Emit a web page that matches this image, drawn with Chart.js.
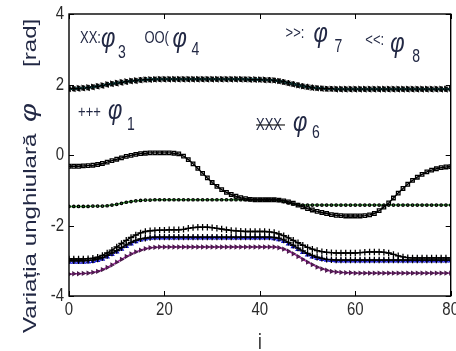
<!DOCTYPE html>
<html>
<head>
<meta charset="utf-8">
<script src="https://cdn.jsdelivr.net/npm/chart.js@4.4.1/dist/chart.umd.min.js"></script>
<style>
  html, body { margin: 0; padding: 0; background: #fff; }
  canvas { display: block; }
</style>
</head>
<body>
<canvas id="myChart" width="456" height="351"></canvas>
<script>
// sample index i
const idx = Array.from({ length: 81 }, (_, i) => i);

// angular variation of each joint [rad]
const phi3 = [1.88,1.88,1.89,1.90,1.91, 1.93,1.95,1.97,2.00,2.02, 2.04,2.06,2.08,2.10,2.11, 2.13,2.14,2.14,2.15,2.15,
  2.15,2.15,2.15,2.15,2.15, 2.15,2.15,2.15,2.15,2.15, 2.15,2.15,2.15,2.15,2.15, 2.15,2.15,2.15,2.14,2.14,
  2.14,2.13,2.13,2.12,2.10, 2.08,2.05,2.02,1.99,1.96, 1.94,1.92,1.90,1.89,1.88, 1.88,1.87,1.87,1.87,1.87,
  1.87,1.87,1.87,1.87,1.87, 1.87,1.87,1.87,1.87,1.87, 1.87,1.87,1.87,1.87,1.87, 1.87,1.87,1.87,1.87,1.87, 1.87];
const phi7 = [1.89,1.89,1.90,1.91,1.92, 1.94,1.96,1.98,2.01,2.03, 2.05,2.07,2.09,2.11,2.12, 2.13,2.14,2.15,2.15,2.16,
  2.16,2.16,2.16,2.16,2.16, 2.16,2.16,2.16,2.16,2.16, 2.16,2.16,2.16,2.16,2.16, 2.16,2.16,2.15,2.15,2.15,
  2.14,2.14,2.13,2.12,2.10, 2.07,2.04,2.01,1.98,1.95, 1.93,1.91,1.90,1.89,1.88, 1.88,1.88,1.88,1.88,1.88,
  1.88,1.88,1.88,1.88,1.88, 1.88,1.88,1.88,1.88,1.88, 1.88,1.88,1.88,1.88,1.88, 1.88,1.88,1.88,1.88,1.88, 1.88];
const phi8 = [1.87,1.87,1.88,1.89,1.90, 1.92,1.94,1.96,1.99,2.01, 2.03,2.05,2.07,2.09,2.10, 2.12,2.13,2.13,2.14,2.14,
  2.14,2.14,2.14,2.14,2.14, 2.14,2.14,2.14,2.14,2.14, 2.14,2.14,2.14,2.14,2.14, 2.14,2.14,2.14,2.13,2.13,
  2.13,2.12,2.12,2.11,2.09, 2.06,2.03,2.00,1.97,1.94, 1.92,1.90,1.89,1.88,1.87, 1.87,1.86,1.86,1.86,1.86,
  1.86,1.86,1.86,1.86,1.86, 1.86,1.86,1.86,1.86,1.86, 1.86,1.86,1.86,1.86,1.86, 1.86,1.86,1.86,1.86,1.86, 1.86];
const phi4 = [-0.32,-0.32,-0.32,-0.31,-0.30, -0.29,-0.27,-0.24,-0.20,-0.16, -0.12,-0.08,-0.04,-0.01,0.02, 0.04,0.05,0.06,0.06,0.06,
  0.06,0.06,0.05,0.03,-0.03, -0.13,-0.25,-0.38,-0.52,-0.65, -0.78,-0.89,-0.98,-1.06,-1.12, -1.17,-1.21,-1.24,-1.26,-1.27,
  -1.27,-1.27,-1.27,-1.27,-1.28, -1.30,-1.33,-1.37,-1.42,-1.47, -1.52,-1.56,-1.60,-1.63,-1.66, -1.69,-1.71,-1.72,-1.73,-1.73,
  -1.73,-1.73,-1.72,-1.70,-1.66, -1.58,-1.48,-1.36,-1.22,-1.08, -0.95,-0.83,-0.72,-0.63,-0.55, -0.48,-0.43,-0.39,-0.36,-0.34, -0.33];
const phi2 = [-1.46,-1.46,-1.46,-1.46,-1.46, -1.45,-1.45,-1.45,-1.44,-1.42, -1.40,-1.37,-1.34,-1.32,-1.30, -1.29,-1.28,-1.28,-1.27,-1.27,
  -1.27,-1.27,-1.27,-1.27,-1.27, -1.27,-1.27,-1.27,-1.27,-1.27, -1.27,-1.27,-1.27,-1.27,-1.27, -1.27,-1.27,-1.27,-1.27,-1.27,
  -1.27,-1.27,-1.27,-1.27,-1.29, -1.32,-1.36,-1.39,-1.41,-1.42, -1.42,-1.42,-1.42,-1.42,-1.42, -1.42,-1.42,-1.42,-1.42,-1.42,
  -1.42,-1.42,-1.42,-1.42,-1.42, -1.42,-1.42,-1.42,-1.42,-1.42, -1.42,-1.42,-1.42,-1.42,-1.42, -1.42,-1.42,-1.42,-1.42,-1.42, -1.42];
const phi1 = [-2.95,-2.95,-2.95,-2.95,-2.94, -2.93,-2.90,-2.85,-2.78,-2.70, -2.61,-2.51,-2.42,-2.34,-2.27, -2.21,-2.17,-2.15,-2.14,-2.13,
  -2.13,-2.12,-2.12,-2.12,-2.11, -2.08,-2.06,-2.05,-2.05,-2.05, -2.06,-2.08,-2.10,-2.12,-2.14, -2.15,-2.16,-2.17,-2.17,-2.17,
  -2.17,-2.17,-2.18,-2.20,-2.24, -2.29,-2.35,-2.42,-2.49,-2.56, -2.62,-2.67,-2.71,-2.74,-2.76, -2.77,-2.78,-2.78,-2.78,-2.78,
  -2.78,-2.77,-2.76,-2.75,-2.75, -2.75,-2.76,-2.78,-2.82,-2.86, -2.89,-2.91,-2.92,-2.92,-2.92, -2.92,-2.92,-2.92,-2.92,-2.92, -2.92];
const phi6 = [-3.00,-3.00,-3.00,-3.00,-2.99, -2.98,-2.95,-2.91,-2.85,-2.78, -2.71,-2.63,-2.55,-2.48,-2.42, -2.38,-2.36,-2.34,-2.33,-2.33,
  -2.33,-2.33,-2.33,-2.33,-2.33, -2.33,-2.33,-2.33,-2.33,-2.33, -2.33,-2.33,-2.33,-2.33,-2.33, -2.33,-2.33,-2.33,-2.33,-2.33,
  -2.33,-2.33,-2.33,-2.34,-2.36, -2.41,-2.48,-2.56,-2.64,-2.72, -2.79,-2.85,-2.90,-2.93,-2.96, -2.97,-2.98,-2.98,-2.98,-2.98,
  -2.98,-2.98,-2.98,-2.98,-2.98, -2.98,-2.98,-2.98,-2.98,-2.98, -2.98,-2.98,-2.98,-2.98,-2.98, -2.98,-2.98,-2.98,-2.98,-2.98, -2.98];
const phiBlue = [-3.04,-3.04,-3.04,-3.04,-3.03, -3.02,-2.99,-2.95,-2.89,-2.82, -2.75,-2.67,-2.59,-2.52,-2.46, -2.41,-2.38,-2.36,-2.35,-2.35,
  -2.35,-2.35,-2.35,-2.35,-2.35, -2.35,-2.35,-2.35,-2.35,-2.35, -2.35,-2.35,-2.35,-2.35,-2.35, -2.35,-2.35,-2.35,-2.35,-2.35,
  -2.35,-2.35,-2.35,-2.37,-2.40, -2.45,-2.52,-2.60,-2.68,-2.76, -2.83,-2.89,-2.93,-2.96,-2.98, -2.99,-3.00,-3.00,-3.00,-3.00,
  -3.00,-3.00,-3.00,-3.00,-3.00, -3.00,-3.00,-3.00,-3.00,-3.00, -3.00,-3.00,-3.00,-3.00,-3.00, -3.00,-3.00,-3.00,-3.00,-3.00, -3.00];
const phi5 = [-3.38,-3.37,-3.37,-3.36,-3.35, -3.33,-3.30,-3.25,-3.19,-3.12, -3.04,-2.96,-2.88,-2.81,-2.75, -2.70,-2.66,-2.63,-2.62,-2.61,
  -2.61,-2.61,-2.61,-2.61,-2.61, -2.61,-2.61,-2.61,-2.61,-2.61, -2.61,-2.61,-2.61,-2.61,-2.61, -2.61,-2.61,-2.61,-2.61,-2.61,
  -2.61,-2.61,-2.61,-2.61,-2.63, -2.67,-2.73,-2.80,-2.88,-2.96, -3.04,-3.11,-3.18,-3.23,-3.27, -3.30,-3.32,-3.33,-3.34,-3.34,
  -3.35,-3.35,-3.35,-3.35,-3.35, -3.35,-3.35,-3.35,-3.35,-3.35, -3.35,-3.35,-3.35,-3.35,-3.35, -3.35,-3.35,-3.35,-3.35,-3.35, -3.35];

// tick labels
const xTickLabels = ['0', '20', '40', '60', '80'];
const yTickLabels = ['-4', '-2', '0', '2', '4'];

// in-plot labels: marker text, subscript, anchor in data units
const notes = [
  { mark: 'XX:', sub: '3', x: 2.3, y: 3.18, phi: [21, 4], s: [38, 15] },
  { mark: 'OO(', sub: '4', x: 15.8, y: 3.18, phi: [28, 4], s: [47, 12] },
  { mark: '>>:', sub: '7', x: 45.4, y: 3.32, phi: [28, 4], s: [49, 14] },
  { mark: '<<:', sub: '8', x: 62.1, y: 3.12, phi: [25, 7], s: [47, 17] },
  { mark: '+++', sub: '1', x: 1.9, y: 1.08, phi: [30, 2], s: [49, 13] },
  { mark: 'XXX', sub: '6', x: 39.2, y: 0.71, phi: [37, 1], s: [56, 8], strike: true }
];

const SY = 1.27; // the original figure is stretched vertically
const textColor = '#222844';

function pts(arr) {
    return arr.map((v, i) => ({ x: idx[i], y: v }));
}

function stretchedText(ctx, txt, x, y, font, align, base) {
    ctx.save();
    ctx.translate(x, y);
    ctx.scale(1, SY);
    ctx.font = font;
    ctx.textAlign = align;
    ctx.textBaseline = base;
    ctx.fillText(txt, 0, 0);
    ctx.restore();
}

const decor = {
    id: 'decor',
    afterDraw(chart) {
        const { ctx, chartArea: a, scales } = chart;
        const xs = scales.x, ys = scales.y;
        ctx.save();
        ctx.strokeStyle = '#000';
        ctx.lineWidth = 1.4;
        ctx.strokeRect(a.left, a.top, a.right - a.left, a.bottom - a.top);

        // inward ticks on all four sides
        ctx.lineWidth = 1;
        ctx.beginPath();
        xs.ticks.forEach(t => {
            const px = Math.round(xs.getPixelForValue(t.value)) + 0.5;
            ctx.moveTo(px, a.bottom); ctx.lineTo(px, a.bottom - 5);
            ctx.moveTo(px, a.top); ctx.lineTo(px, a.top + 5);
        });
        ys.ticks.forEach(t => {
            const py = Math.round(ys.getPixelForValue(t.value)) + 0.5;
            ctx.moveTo(a.left, py); ctx.lineTo(a.left + 5, py);
            ctx.moveTo(a.right, py); ctx.lineTo(a.right - 5, py);
        });
        ctx.stroke();

        // tick labels
        ctx.fillStyle = '#2a2a2a';
        const tickFont = '15px "Liberation Sans", Arial, sans-serif';
        xs.ticks.forEach((t, i) => {
            stretchedText(ctx, xTickLabels[i], xs.getPixelForValue(t.value), a.bottom + 4, tickFont, 'center', 'top');
        });
        ys.ticks.forEach((t, i) => {
            stretchedText(ctx, yTickLabels[i], a.left - 5, ys.getPixelForValue(t.value), tickFont, 'right', 'middle');
        });

        // x title
        stretchedText(ctx, 'i', (a.left + a.right) / 2, 332, '17px "Liberation Sans", Arial, sans-serif', 'center', 'top');

        // y title, rotated
        ctx.save();
        ctx.fillStyle = textColor;
        ctx.translate(36, 333);
        ctx.rotate(-Math.PI / 2);
        ctx.scale(SY, 1);
        ctx.textBaseline = 'alphabetic';
        ctx.textAlign = 'left';
        ctx.font = '19px "Liberation Sans", Arial, sans-serif';
        ctx.fillText('Variația unghiulară', 0, 0);
        ctx.font = 'italic 23px "Liberation Sans", Arial, sans-serif';
        ctx.fillText('φ', 211 / SY, 0);
        ctx.font = '19px "Liberation Sans", Arial, sans-serif';
        ctx.fillText('[rad]', 266 / SY, 0);
        ctx.restore();

        // in-plot labels
        ctx.fillStyle = textColor;
        notes.forEach(n => {
            const px = xs.getPixelForValue(n.x);
            const py = ys.getPixelForValue(n.y);
            stretchedText(ctx, n.mark, px, py, '13px "Liberation Sans", Arial, sans-serif', 'left', 'alphabetic');
            stretchedText(ctx, 'φ', px + n.phi[0], py + n.phi[1], 'italic 22px "Liberation Sans", Arial, sans-serif', 'left', 'alphabetic');
            stretchedText(ctx, n.sub, px + n.s[0], py + n.s[1], '14px "Liberation Sans", Arial, sans-serif', 'left', 'alphabetic');
            if (n.strike) {
                ctx.strokeStyle = '#222';
                ctx.lineWidth = 1.2;
                ctx.beginPath();
                ctx.moveTo(px, py - 5);
                ctx.lineTo(px + 29, py - 5);
                ctx.stroke();
            }
        });
        ctx.restore();
    }
};

function series(label, arr, line, style, radius, pointColor, rot) {
    return {
        label: label,
        data: pts(arr),
        borderColor: line,
        borderWidth: 1.4,
        pointStyle: style,
        pointRadius: radius,
        pointRotation: rot || 0,
        pointBorderColor: pointColor,
        pointBackgroundColor: 'rgba(0,0,0,0)',
        pointBorderWidth: 1.3,
        tension: 0
    };
}

const ctx = document.getElementById('myChart').getContext('2d');
const myChart = new Chart(ctx, {
    type: 'line',
    data: {
        datasets: [
            series('φ3', phi3, '#1c9c9c', 'cross', 2.8, '#000'),
            series('φ7', phi7, '#1c9c9c', 'triangle', 2.4, '#111', 90),
            series('φ8', phi8, '#1c9c9c', 'triangle', 2.4, '#111', -90),
            series('φ4', phi4, '#000', 'rect', 2.5, '#000'),
            series('φ2', phi2, '#2e9a2e', 'circle', 1.2, '#000'),
            series('φ1', phi1, '#000', 'cross', 3.2, '#000'),
            series('φ6', phi6, '#000', 'cross', 3.2, '#000'),
            series('φb', phiBlue, 'rgba(0,0,0,0)', 'triangle', 2, '#1a1ad0'),
            series('φ5', phi5, '#a01fa0', 'triangle', 1.8, '#4a1a4a', 90)
        ]
    },
    options: {
        responsive: false,
        animation: false,
        devicePixelRatio: 1,
        layout: { padding: { top: 14, right: 3, left: 0, bottom: 0 } },
        plugins: {
            legend: { display: false },
            tooltip: { enabled: false }
        },
        scales: {
            x: {
                type: 'linear',
                min: 0,
                max: 80,
                ticks: { stepSize: 20, display: false },
                grid: { display: false },
                border: { display: false },
                afterFit: s => { s.height = 55; }
            },
            y: {
                min: -4,
                max: 4,
                ticks: { stepSize: 2, display: false },
                grid: { display: false },
                border: { display: false },
                afterFit: s => { s.width = 69; }
            }
        }
    },
    plugins: [decor]
});
</script>
</body>
</html>
